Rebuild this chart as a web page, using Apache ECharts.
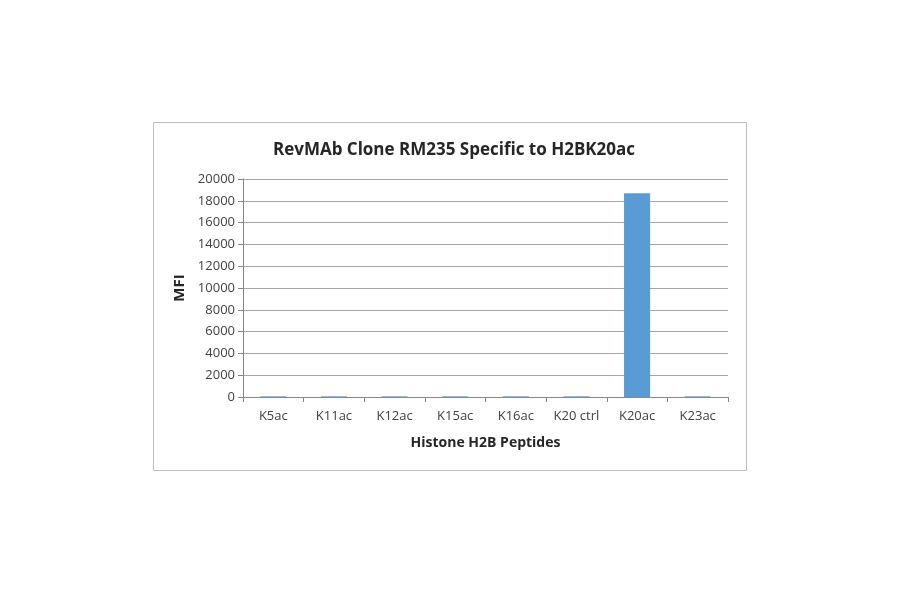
<!DOCTYPE html>
<html>
<head>
<meta charset="utf-8">
<script src="https://cdn.jsdelivr.net/npm/echarts@6/dist/echarts.min.js"></script>
<style>
  html, body { margin: 0; padding: 0; background: #fff; }
  #chart { width: 900px; height: 594px; }
</style>
</head>
<body>
<div id="chart"></div>
<script>
const peptides = ['K5ac', 'K11ac', 'K12ac', 'K15ac', 'K16ac', 'K20 ctrl', 'K20ac', 'K23ac'];
const mfi = [60, 60, 60, 60, 60, 60, 18700, 60];
const yTicks = [0, 20000, 2000]; // min, max, interval

const myChart = echarts.init(document.getElementById('chart'));
const font = '"Open Sans", "Liberation Sans", sans-serif';

const option = {
  animation: false,
  textStyle: { fontFamily: font },
  title: {
    text: 'RevMAb Clone RM235 Specific to H2BK20ac',
    left: 449,
    top: 137,
    textAlign: 'center',
    textStyle: { fontSize: 17, fontWeight: 'bold', color: '#262626', fontFamily: font }
  },
  graphic: [{
    type: 'rect',
    shape: { x: 153.5, y: 122.5, width: 593, height: 348 },
    style: { fill: 'none', stroke: '#bfbfbf', lineWidth: 1 },
    silent: true
  }],
  grid: { left: 243, right: 172, top: 179, bottom: 197 },
  xAxis: {
    type: 'category',
    data: peptides,
    name: 'Histone H2B Peptides',
    nameLocation: 'middle',
    nameGap: 39,
    nameTextStyle: { fontSize: 14, fontWeight: 'bold', color: '#262626' },
    axisLine: { lineStyle: { color: '#868686' } },
    axisTick: { show: true, length: 5, lineStyle: { color: '#868686' } },
    axisLabel: { fontSize: 13, color: '#404040', margin: 13, interval: 0 }
  },
  yAxis: {
    type: 'value',
    min: yTicks[0],
    max: yTicks[1],
    interval: yTicks[2],
    name: 'MFI',
    nameLocation: 'middle',
    nameGap: 46,
    nameTextStyle: { fontSize: 15, fontWeight: 'bold', color: '#262626' },
    axisLine: { show: true, lineStyle: { color: '#868686' } },
    axisTick: { show: true, length: 5, lineStyle: { color: '#868686' } },
    axisLabel: { fontSize: 13, color: '#404040', margin: 8, formatter: v => String(v) },
    splitLine: { lineStyle: { color: '#a6a6a6' } }
  },
  series: [{
    name: 'MFI',
    type: 'bar',
    data: mfi,
    barWidth: '43%',
    itemStyle: { color: '#5b9bd5' }
  }]
};
myChart.setOption(option);
</script>
</body>
</html>
